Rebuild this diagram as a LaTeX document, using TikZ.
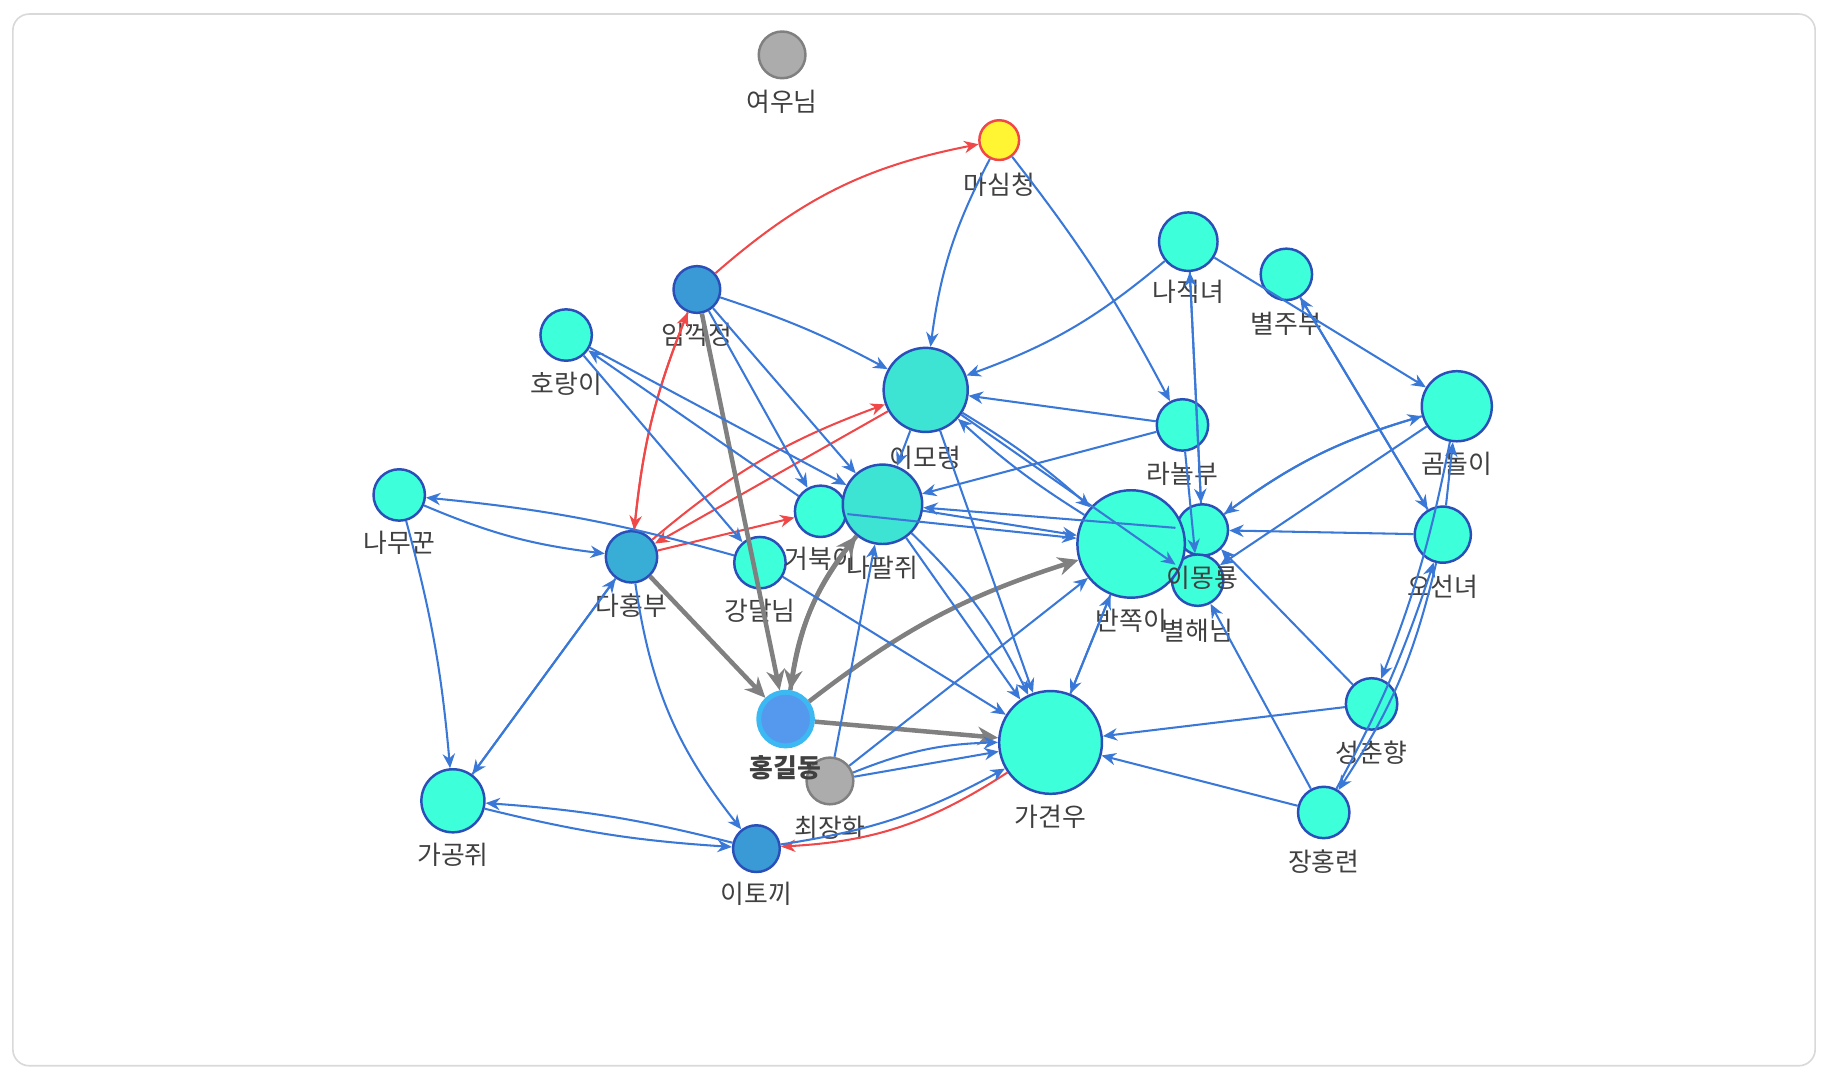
\documentclass[tikz,border=0pt]{standalone}
\usepackage{fontspec}
\setmainfont{Noto Sans CJK KR}
\usetikzlibrary{arrows.meta}
\definecolor{tq}{HTML}{3DFFD9}
\definecolor{tq2}{HTML}{3DE3D3}
\definecolor{bd}{HTML}{2B4FB8}
\definecolor{eb}{HTML}{3A78D8}
\definecolor{er}{HTML}{F04848}
\definecolor{bn}{HTML}{3A9AD6}
\definecolor{bn2}{HTML}{38AED6}
\definecolor{hgc}{HTML}{5599EE}
\begin{document}
\begin{tikzpicture}[x=0.01cm,y=-0.01cm,
 nd/.style={circle,draw=bd,line width=0.6pt,fill=tq,inner sep=0pt,minimum size=#1*0.02cm},
 lb/.style={font=\fontsize{6.3pt}{6.3pt}\selectfont,text=black!75},
 e/.style={draw=eb,line width=0.5pt,-{Stealth[length=3.5pt,width=3pt]}},
 r/.style={draw=er,line width=0.5pt,-{Stealth[length=3.5pt,width=3pt]}},
 g/.style={draw=gray,line width=1.1pt,-{Stealth[length=5pt,width=4.5pt]}}]
\useasboundingbox (0,0) rectangle (1566,926);
\draw[gray!30,rounded corners=4pt] (11,12) rectangle (1555,913);
% nodes
\node[nd=20,fill=gray!65,draw=gray] (yw) at (670,47) {};
\node[nd=17,fill=yellow!80,draw=er] (ms) at (856,120) {};
\node[nd=20,fill=bn] (ik) at (597,248) {};
\node[nd=22] (hr) at (485,287) {};
\node[nd=22] (nm) at (342,424) {};
\node[nd=22,fill=bn2] (dh) at (541,477) {};
\node[nd=22] (gd) at (651,482) {};
\node[nd=22] (gb) at (703,438) {};
\node[nd=34,fill=tq2] (np) at (756,432) {};
\node[nd=36,fill=tq2] (im) at (793,334) {};
\node[nd=23,fill=hgc,draw=hgc!70!cyan,line width=1.2pt] (hg) at (673,616) {};
\node[nd=20,fill=gray!65,draw=gray] (cj) at (711,669) {};
\node[nd=44] (gg) at (900,636) {};
\node[nd=20,fill=bn] (it) at (648,727) {};
\node[nd=27] (gk) at (388,686) {};
\node[nd=22] (mr) at (1030,454) {};
\node[nd=22] (bh) at (1026,497) {};
\node[nd=46] (bj) at (969,466) {};
\node[nd=22] (rn) at (1013,364) {};
\node[nd=25] (nj) at (1018,207) {};
\node[nd=22] (bz) at (1102,235) {};
\node[nd=30] (gm) at (1248,348) {};
\node[nd=24] (os) at (1236,458) {};
\node[nd=22] (sc) at (1175,603) {};
\node[nd=22] (jh) at (1134,696) {};
% labels
\node[lb] at (670,87) {여우님};
\node[lb] at (856,158) {마심청};
\node[lb] at (597,287) {임꺽정};
\node[lb] at (485,329) {호랑이};
\node[lb] at (342,465) {나무꾼};
\node[lb] at (541,519) {다홍부};
\node[lb] at (651,523) {강달님};
\node[lb] at (703,479) {거북이};
\node[lb] at (756,486) {나팔쥐};
\node[lb] at (793,392) {이모령};
\node[lb,font=\fontsize{6.3pt}{6.3pt}\selectfont\bfseries] at (673,658) {홍길동};
\node[lb] at (711,709) {최장화};
\node[lb] at (900,700) {가견우};
\node[lb] at (648,766) {이토끼};
\node[lb] at (388,732) {가공쥐};
\node[lb] at (1030,495) {이몽룡};
\node[lb] at (1026,540) {별해님};
\node[lb] at (969,532) {반쪽이};
\node[lb] at (1013,406) {라놀부};
\node[lb] at (1018,250) {나직녀};
\node[lb] at (1102,277) {별주부};
\node[lb] at (1248,397) {곰돌이};
\node[lb] at (1236,503) {오선녀};
\node[lb] at (1175,645) {성춘향};
\node[lb] at (1134,738) {장홍련};
% red edges
\draw[r] (ik) to[bend left=15] (ms);
\draw[r] (dh) to[bend left=8] (ik);
\draw[r] (ik) to[bend right=8] (dh);
\draw[r] (dh) to[bend left=10] (im);
\draw[r] (im) to (dh);
\draw[r] (dh) to (gb);
\draw[r] (gg) to[bend left=15] (it);
% gray edges
\draw[g] (ik) to (hg);
\draw[g] (dh) to (hg);
\draw[g] (np) to[bend right=15] (hg);
\draw[g] (hg) to[bend left=15] (np);
\draw[g] (hg) to[bend left=10] (bj);
\draw[g] (hg) to (gg);
% blue edges
\draw[e] (ms) to[bend right=10] (im);
\draw[e] (ms) to[bend left=5] (rn);
\draw[e] (ik) to[bend left=5] (im);
\draw[e] (ik) to (np);
\draw[e] (ik) to (gb);
\draw[e] (hr) to (gd);
\draw[e] (hr) to (np);
\draw[e] (gb) to (hr);
\draw[e] (nm) to[bend right=8] (dh);
\draw[e] (gd) to[bend right=5] (nm);
\draw[e] (nm) to[bend left=5] (gk);
\draw[e] (dh) to (gk);
\draw[e] (gk) to (dh);
\draw[e] (dh) to[bend right=15] (it);
\draw[e] (gk) to[bend right=5] (it);
\draw[e] (it) to[bend right=5] (gk);
\draw[e] (it) to[bend right=10] (gg);
\draw[e] (cj) to (bj);
\draw[e] (cj) to (gg);
\draw[e] (cj) to[bend left=10] (gg);
\draw[e] (cj) to (np);
\draw[e] (im) to (np);
\draw[e] (im) to (gg);
\draw[e] (im) to[bend left=5] (bj);
\draw[e] (bj) to[bend left=5] (im);
\draw[e] (im) to (bh);
\draw[e] (rn) to (im);
\draw[e] (nj) to[bend left=10] (im);
\draw[e] (nj) to (mr);
\draw[e] (nj) to (gm);
\draw[e] (mr) to (nj);
\draw[e] (rn) to (np);
\draw[e] (np) to (bj);
\draw[e] (gb) to (bj);
\draw[e] (mr) to (np);
\draw[e] (np) to (gg);
\draw[e] (gd) to (gg);
\draw[e] (np) to[bend left=10] (gg);
\draw[e] (bj) to (gg);
\draw[e] (gg) to (bj);
\draw[e] (bz) to (os);
\draw[e] (os) to (bz);
\draw[e] (rn) to (bh);
\draw[e] (gm) to[bend right=10] (mr);
\draw[e] (mr) to[bend left=10] (gm);
\draw[e] (gm) to (bh);
\draw[e] (os) to (mr);
\draw[e] (os) to (gm);
\draw[e] (gm) to[bend left=5] (sc);
\draw[e] (os) to[bend left=10] (jh);
\draw[e] (jh) to[bend right=5] (os);
\draw[e] (sc) to (gg);
\draw[e] (jh) to (gg);
\draw[e] (sc) to (mr);
\draw[e] (jh) to (bh);
\end{tikzpicture}
\end{document}
